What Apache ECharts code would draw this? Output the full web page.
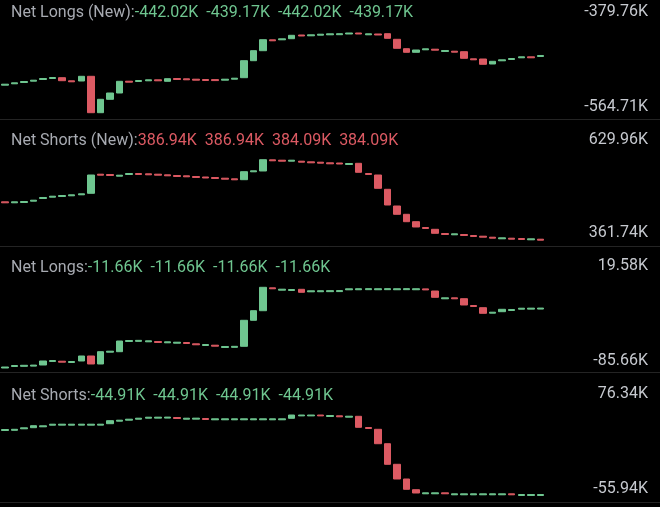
<!DOCTYPE html>
<html>
<head>
<meta charset="utf-8">
<script src="https://cdn.jsdelivr.net/npm/echarts@6.0.0/dist/echarts.min.js"></script>
<style>
  html, body { margin: 0; padding: 0; background: #000; }
  #main { width: 660px; height: 507px; }
</style>
</head>
<body>
<div id="main"></div>
<script>
// Net Longs (New)
const longsNewOpen = [-500.90, -497.65, -494.63, -491.61, -487.67, -485.35, -483.49, -490.68, -491.15, -480.24, -564.71, -533.62, -519.00, -491.61, -492.31, -490.68, -488.36, -491.84, -485.35, -486.04, -486.97, -487.67, -487.90, -489.29, -486.97, -483.49, -444.04, -420.83, -395.54, -395.54, -393.03, -384.40, -386.26, -384.87, -383.94, -383.70, -382.08, -379.76, -383.94, -382.08, -381.38, -394.38, -416.19, -424.55, -418.75, -417.35, -422.69, -422.00, -423.16, -439.63, -440.10, -451.70, -444.27, -441.26, -437.31, -434.99, -434.29];
const longsNewClose = [-498.58, -495.33, -492.31, -489.29, -485.35, -483.03, -490.45, -493.00, -480.24, -564.71, -533.62, -519.00, -491.84, -493.93, -489.99, -488.36, -490.68, -485.81, -487.67, -488.36, -489.29, -489.99, -490.20, -486.97, -484.65, -444.04, -420.83, -395.31, -397.86, -393.22, -385.10, -386.72, -383.94, -382.55, -381.62, -381.40, -379.76, -382.08, -381.62, -384.40, -392.06, -415.27, -424.55, -419.21, -416.43, -419.67, -420.37, -424.32, -438.47, -441.95, -452.39, -445.43, -441.95, -438.94, -434.99, -437.31, -431.97];
const longsNewOhlc = ['-442.02K', '-439.17K', '-442.02K', '-439.17K'];
const longsNewRange = [-379.76, -564.71];

// Net Shorts (New)
const shortsNewOpen = [489.86, 486.54, 487.53, 491.86, 500.85, 505.17, 507.50, 509.83, 513.16, 518.15, 581.70, 580.70, 575.06, 580.71, 584.03, 583.03, 581.70, 579.71, 577.38, 576.38, 574.05, 572.39, 570.72, 568.39, 566.40, 563.40, 589.70, 592.36, 629.62, 628.29, 624.97, 624.96, 622.97, 621.64, 619.64, 618.97, 613.99, 617.98, 584.03, 579.04, 531.46, 475.88, 448.26, 423.64, 404.33, 398.35, 384.36, 380.05, 381.04, 377.71, 375.38, 372.05, 366.73, 368.72, 367.73, 363.41, 365.40];
const shortsNewClose = [486.54, 489.86, 490.85, 495.18, 504.17, 508.49, 510.82, 513.15, 516.48, 579.04, 578.38, 577.38, 578.38, 584.03, 580.71, 579.71, 578.38, 576.39, 574.06, 573.06, 570.73, 569.07, 567.40, 565.07, 563.08, 590.03, 593.02, 629.96, 626.30, 624.97, 628.29, 621.64, 619.65, 618.32, 616.32, 615.65, 617.31, 588.03, 580.71, 534.78, 479.21, 448.26, 423.64, 406.00, 401.01, 385.03, 381.04, 383.37, 377.72, 374.39, 372.06, 368.73, 370.05, 365.40, 364.41, 366.73, 362.08];
const shortsNewOhlc = ['386.94K', '386.94K', '384.09K', '384.09K'];
const shortsNewRange = [629.96, 361.74];

// Net Longs
const longsOpen = [-85.66, -83.70, -83.44, -83.18, -81.75, -77.18, -76.80, -78.49, -76.53, -70.01, -80.44, -65.05, -64.40, -51.10, -50.90, -51.49, -51.10, -52.80, -53.32, -52.41, -54.10, -56.32, -55.93, -58.92, -58.70, -57.36, -23.46, -10.94, 18.93, 15.80, 15.41, 16.97, 13.71, 13.80, 13.90, 14.00, 16.32, 16.40, 16.50, 16.40, 16.50, 16.40, 16.50, 16.40, 17.50, 14.75, 4.58, 5.88, 4.71, -4.16, -7.02, -14.19, -12.24, -10.67, -8.98, -8.90, -8.80];
const longsClose = [-84.36, -82.40, -82.14, -81.88, -76.53, -75.88, -78.10, -77.19, -70.01, -80.44, -64.40, -63.75, -50.45, -49.80, -49.60, -50.19, -52.40, -51.50, -52.02, -53.71, -55.40, -55.02, -57.23, -57.62, -57.40, -23.46, -10.94, 19.58, 17.63, 17.10, 16.71, 13.06, 15.01, 15.10, 15.20, 15.30, 17.62, 17.70, 17.80, 17.70, 17.80, 17.70, 17.80, 17.70, 16.20, 6.54, 5.88, 4.58, -3.50, -5.46, -14.33, -12.89, -9.11, -9.37, -7.68, -7.60, -7.50];
const longsOhlc = ['-11.66K', '-11.66K', '-11.66K', '-11.66K'];
const longsRange = [19.58, -85.66];

// Net Shorts
const shortsOpen = [50.93, 51.26, 53.72, 55.52, 57.00, 59.62, 59.70, 59.65, 59.70, 59.65, 59.70, 62.08, 66.18, 67.82, 69.45, 71.09, 71.20, 71.30, 72.24, 69.45, 69.55, 70.60, 68.47, 68.50, 68.47, 68.50, 68.47, 68.50, 68.47, 68.50, 70.93, 74.90, 74.90, 76.30, 73.88, 75.03, 72.73, 74.21, 55.85, 52.90, 29.29, -4.47, -28.57, -46.11, -52.83, -52.80, -51.20, -54.47, -54.45, -54.47, -54.45, -54.47, -54.45, -52.83, -55.62, -55.60, -55.62];
const shortsClose = [52.57, 52.90, 55.36, 58.80, 58.64, 61.26, 61.30, 61.28, 61.30, 61.28, 61.30, 67.00, 67.82, 69.46, 71.09, 72.73, 72.80, 72.90, 70.60, 71.09, 71.19, 68.96, 70.11, 70.10, 70.11, 70.10, 70.11, 70.10, 70.11, 70.10, 76.34, 76.30, 76.30, 74.90, 75.52, 73.39, 74.37, 56.18, 54.21, 29.29, -4.47, -28.57, -45.45, -51.52, -51.19, -51.20, -52.80, -52.83, -52.85, -52.83, -52.85, -52.83, -52.85, -54.47, -53.98, -54.00, -53.98];
const shortsOhlc = ['-44.91K', '-44.91K', '-44.91K', '-44.91K'];
const shortsRange = [76.34, -55.94];

const UP = '#6fc690';
const DOWN = '#dc5a63';

let chart = echarts.init(document.getElementById('main'));

let periods = longsNewOpen.map((v, i) => String(i + 1));

// 四个面板
let panels = [
    { name: 'Net Longs (New):', ohlc: longsNewOhlc, tone: UP, open: longsNewOpen, close: longsNewClose, range: longsNewRange,
      top: 33, height: 79.7, line: 6.8, titleTop: 4.2, maxTop: 2.5, minTop: 98 },
    { name: 'Net Shorts (New):', ohlc: shortsNewOhlc, tone: DOWN, open: shortsNewOpen, close: shortsNewClose, range: shortsNewRange,
      top: 159.7, height: 80.6, line: 6.4, titleTop: 131.5, maxTop: 131, minTop: 224.3 },
    { name: 'Net Longs:', ohlc: longsOhlc, tone: UP, open: longsOpen, close: longsClose, range: longsRange,
      top: 287.3, height: 80.7, line: 4.3, titleTop: 258.5, maxTop: 257, minTop: 352 },
    { name: 'Net Shorts:', ohlc: shortsOhlc, tone: UP, open: shortsOpen, close: shortsClose, range: shortsRange,
      top: 415, height: 80.7, line: 6.6, titleTop: 386.5, maxTop: 384.5, minTop: 480.3 }
];

function fmt(v) {
    return v.toFixed(2) + 'K';
}

let labelStyle = { color: '#c6c9cf', fontSize: 16, fontWeight: 'normal', fontFamily: 'Roboto', lineHeight: 18 };

let grid = [], xAxis = [], yAxis = [], series = [], title = [];

panels.forEach((p, i) => {
    grid.push({ left: 0, right: 0, top: p.top, height: p.height });
    xAxis.push({
        type: 'category',
        gridIndex: i,
        data: periods,
        max: 68,
        boundaryGap: true,
        offset: p.line,
        axisLine: { show: true, onZero: false, lineStyle: { color: '#242424', width: 1 } },
        axisTick: { show: false },
        axisLabel: { show: false },
        splitLine: { show: false }
    });
    yAxis.push({
        type: 'value',
        gridIndex: i,
        position: 'right',
        min: p.range[1],
        max: p.range[0],
        show: false
    });
    series.push({
        type: 'candlestick',
        xAxisIndex: i,
        yAxisIndex: i,
        barWidth: 7,
        animation: false,
        silent: true,
        data: p.open.map((o, k) => {
            let c = p.close[k];
            return [o, c, Math.min(o, c), Math.max(o, c)];
        }),
        itemStyle: {
            color: UP,
            color0: DOWN,
            borderColor: UP,
            borderColor0: DOWN,
            borderWidth: 1
        }
    });
    // 标题 + 数值
    title.push({
        left: 11,
        top: p.titleTop,
        padding: 0,
        text: '{n|' + p.name + '}{v|' + p.ohlc.join('  ') + '}',
        textStyle: {
            fontWeight: 'normal',
            rich: {
                n: { color: '#a7aab1', fontSize: 16, fontWeight: 'normal', fontFamily: 'Roboto', lineHeight: 18 },
                v: { color: p.tone, fontSize: 16, fontWeight: 'normal', fontFamily: 'Roboto', lineHeight: 18 }
            }
        }
    });
    // 右侧最大/最小
    title.push({ right: 12, top: p.maxTop, padding: 0, text: fmt(p.range[0]), textStyle: labelStyle });
    title.push({ right: 12, top: p.minTop, padding: 0, text: fmt(p.range[1]), textStyle: labelStyle });
});

let option = {
    backgroundColor: '#000',
    animation: false,
    title: title,
    grid: grid,
    xAxis: xAxis,
    yAxis: yAxis,
    series: series
};
chart.setOption(option);
</script>
</body>
</html>
